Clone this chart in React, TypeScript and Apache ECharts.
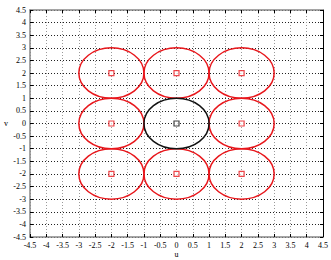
import React, { useEffect, useRef } from "react";
import * as echarts from "echarts";

const redCenters: number[][] = [
  [-2, 2], [0, 2], [2, 2],
  [-2, 0], [2, 0],
  [-2, -2], [0, -2], [2, -2],
];
const blackCenters: number[][] = [[0, 0]];
const radius = 1;
const axisMin = -4.5;
const axisMax = 4.5;
const tickStep = 0.5;

const FONT = "Liberation Serif";

function circleSeries(centers: number[][], color: string) {
  return {
    type: "custom",
    coordinateSystem: "cartesian2d",
    data: centers.map((c) => [c[0], c[1], radius]),
    renderItem: (params: any, api: any) => {
      const c = api.coord([api.value(0), api.value(1)]);
      const s = api.size([api.value(2), api.value(2)]);
      return {
        type: "ellipse",
        shape: { cx: c[0], cy: c[1], rx: s[0], ry: s[1] },
        style: { fill: "none", stroke: color, lineWidth: 1.5 },
        silent: true,
      };
    },
    z: 3,
  };
}

export default function App() {
  const ref = useRef<HTMLDivElement>(null);
  useEffect(() => {
    const chart = echarts.init(ref.current!, null, { renderer: "svg" });
    const labelStyle = { fontFamily: FONT, fontSize: 8, color: "#000" };
    const xBase = {
      type: "value",
      min: axisMin,
      max: axisMax,
      interval: tickStep,
    };
    chart.setOption({
      animation: false,
      backgroundColor: "#fff",
      grid: { left: 30, right: 8, top: 10, bottom: 23, containLabel: false, outerBoundsMode: "none" },
      xAxis: [
        {
          ...xBase,
          position: "bottom",
          name: "u",
          nameLocation: "middle",
          nameGap: 13,
          nameMoveOverlap: false,
          nameTextStyle: { fontFamily: FONT, fontSize: 8, lineHeight: 8, color: "#000" },
          axisLine: { show: true, onZero: false, lineStyle: { color: "#888", width: 1.5 } },
          axisTick: { show: true, inside: true, length: 3, lineStyle: { color: "#000" } },
          axisLabel: { ...labelStyle, margin: 4 },
          splitLine: { show: true, lineStyle: { type: [1, 2], color: "#999", width: 1 } },
        },
        {
          ...xBase,
          position: "top",
          axisLine: { show: true, onZero: false, lineStyle: { color: "#888", width: 1.5 } },
          axisTick: { show: true, inside: true, length: 3, lineStyle: { color: "#000" } },
          axisLabel: { show: false },
          splitLine: { show: false },
        },
      ],
      yAxis: [
        {
          ...xBase,
          position: "left",
          name: "v",
          nameLocation: "middle",
          nameGap: 22,
          nameRotate: 0,
          nameMoveOverlap: false,
          nameTextStyle: { fontFamily: FONT, fontSize: 8, color: "#000" },
          axisLine: { show: true, onZero: false, lineStyle: { color: "#888", width: 1.5 } },
          axisTick: { show: true, inside: true, length: 3, lineStyle: { color: "#000" } },
          axisLabel: { ...labelStyle, margin: 4 },
          splitLine: { show: true, lineStyle: { type: [1, 2], color: "#222", width: 1 } },
        },
        {
          ...xBase,
          position: "right",
          axisLine: { show: true, onZero: false, lineStyle: { color: "#000", width: 1 } },
          axisTick: { show: true, inside: true, length: 3, lineStyle: { color: "#000" } },
          axisLabel: { show: false },
          splitLine: { show: false },
        },
      ],
      series: [
        circleSeries(redCenters, "#e8161b"),
        circleSeries(blackCenters, "#111"),
        {
          type: "scatter",
          data: redCenters,
          symbol: "rect",
          symbolSize: 5,
          itemStyle: { color: "#fff", borderColor: "#e8161b", borderWidth: 1.2 },
          z: 4,
        },
        {
          type: "scatter",
          data: blackCenters,
          symbol: "rect",
          symbolSize: 5,
          itemStyle: { color: "#fff", borderColor: "#111", borderWidth: 1.2 },
          z: 4,
        },
      ],
    });
    return () => chart.dispose();
  }, []);
  return <div ref={ref} style={{ width: 331, height: 260, position: "absolute", left: 0, top: 0 }} />;
}
